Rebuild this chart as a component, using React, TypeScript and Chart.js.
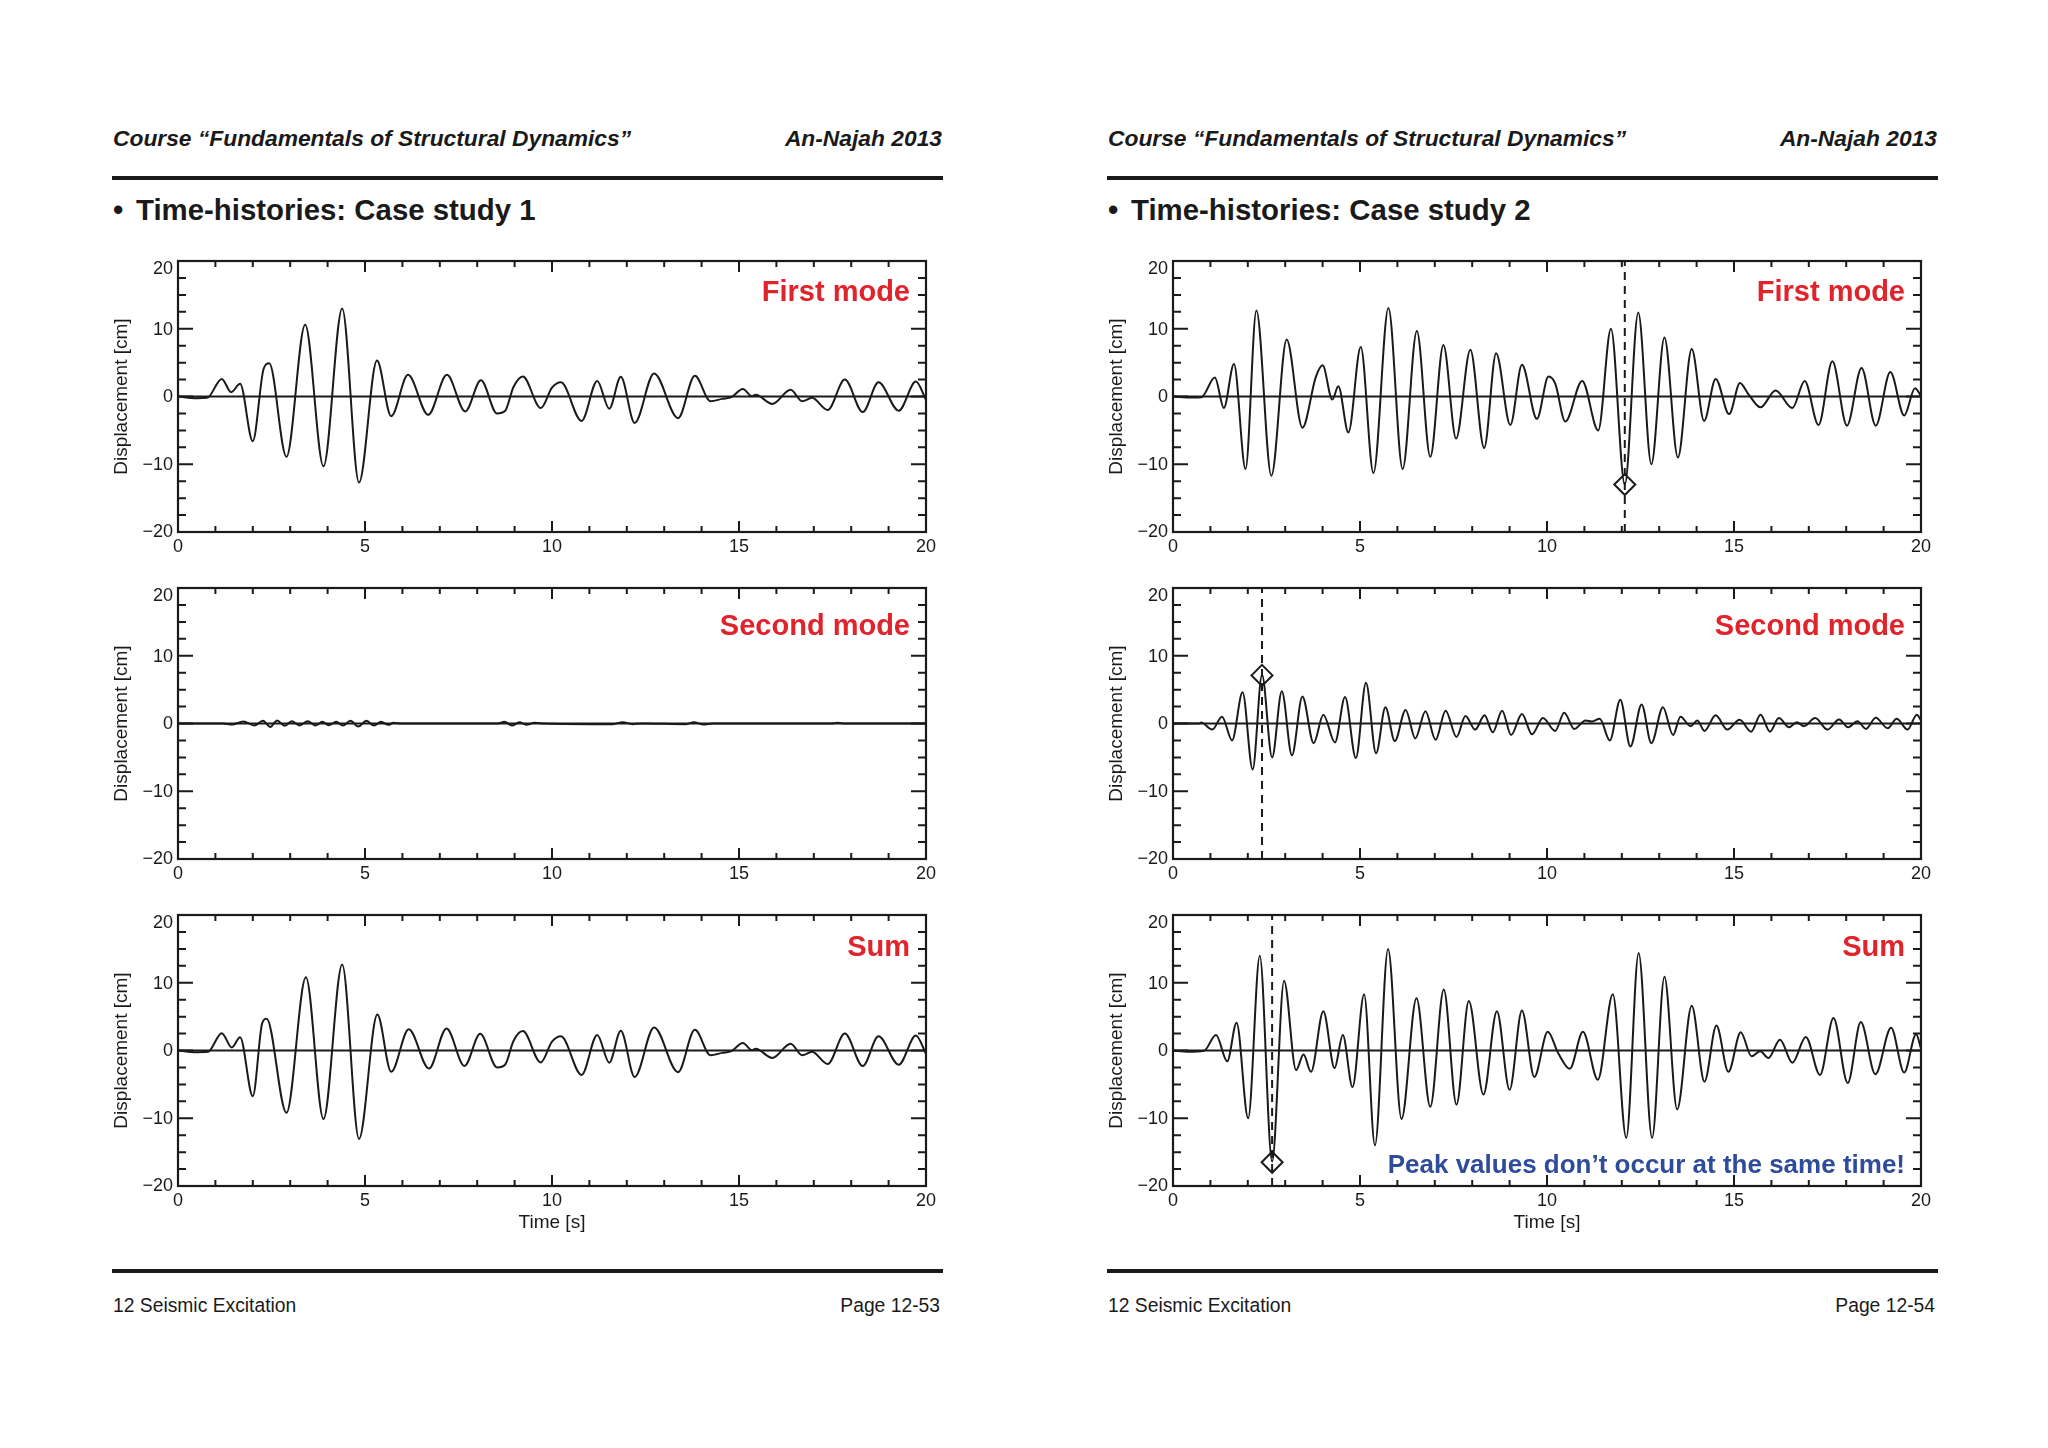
import React, { useEffect, useRef } from 'react';
import { Chart, registerables } from 'chart.js';

Chart.register(...registerables);

type Pt = [number, number];

// ---------- text ----------
const headerLeft = 'Course “Fundamentals of Structural Dynamics”';
const headerRight = 'An-Najah 2013';
const pageTitles = ['Time-histories: Case study 1', 'Time-histories: Case study 2'];
const footerLeft = '12 Seismic Excitation';
const pageNumbers = ['Page 12-53', 'Page 12-54'];
const modeLabels = ['First mode', 'Second mode', 'Sum'];
const noteText = 'Peak values don’t occur at the same time!';
const yAxisTitle = 'Displacement [cm]';
const xAxisTitle = 'Time [s]';

// ---------- axes ----------
const xMin = 0, xMax = 20, xMajorStep = 5, xMinorStep = 1;
const yMin = -20, yMax = 20, yMajorStep = 10, yMinorStep = 2.5;

// ---------- data: [time s, displacement cm] (extrema) ----------
const case1FirstMode: Pt[] = [
  [0, 0], [0.5, -0.25], [0.78, -0.2], [1.17, 2.6], [1.42, 0.64], [1.66, 1.87], [2.0, -6.6], [2.29, 4.1], [2.44, 4.9],
  [2.9, -8.9], [3.4, 10.6], [3.89, -10.3], [4.39, 13.0], [4.84, -12.7], [5.32, 5.3], [5.7, -2.9], [6.15, 3.2],
  [6.69, -2.7], [7.19, 3.2], [7.68, -2.2], [8.1, 2.4], [8.53, -2.5], [8.75, -2.1], [8.97, 1.4], [9.22, 2.96],
  [9.7, -1.7], [10.0, 1.3], [10.24, 2.1], [10.79, -3.6], [11.21, 2.3], [11.53, -1.8], [11.84, 2.9], [12.21, -3.9],
  [12.73, 3.4], [13.37, -3.2], [13.82, 3.05], [14.24, -0.7], [14.55, -0.35], [14.8, -0.1], [15.1, 1.1], [15.35, 0.05],
  [15.45, 0.25], [15.89, -1.1], [16.38, 1.0], [16.69, -0.7], [16.95, -0.2], [17.37, -2.0], [17.83, 2.5], [18.31, -2.3],
  [18.73, 2.1], [19.27, -2.1], [19.73, 2.2], [20, -0.5],
];

const case1SecondMode: Pt[] = [
  [0, 0], [1.2, 0], [1.45, -0.15], [1.75, 0.3], [2.04, -0.3], [2.27, 0.4], [2.47, -0.5], [2.65, 0.45], [2.85, -0.35],
  [3.04, 0.35], [3.25, -0.3], [3.47, 0.35], [3.67, -0.3], [3.86, 0.25], [4.03, -0.25], [4.23, 0.25], [4.41, -0.3],
  [4.61, 0.4], [4.82, -0.45], [5.04, 0.4], [5.24, -0.3], [5.43, 0.25], [5.63, -0.2], [5.76, 0.1], [6.0, 0],
  [8.55, 0], [8.73, 0.25], [8.93, -0.3], [9.13, 0.2], [9.31, -0.2], [9.54, 0.1], [9.8, 0], [11.63, -0.1],
  [11.89, 0.2], [12.15, -0.1], [12.4, 0], [13.59, -0.1], [13.79, 0.2], [14.05, -0.15], [14.3, 0], [17.45, 0],
  [17.64, 0.1], [17.85, 0], [20, 0],
];

const case1Sum: Pt[] = [
  [0, 0], [0.5, -0.25], [0.8, -0.2], [1.17, 2.56], [1.44, 0.44], [1.66, 1.97], [2.0, -6.75], [2.25, 4.0], [2.37, 4.7],
  [2.9, -9.2], [3.42, 10.8], [3.89, -10.1], [4.39, 12.7], [4.84, -13.05], [5.33, 5.3], [5.7, -3.15], [6.17, 3.15],
  [6.71, -2.66], [7.18, 3.25], [7.66, -2.27], [8.08, 2.46], [8.53, -2.5], [8.75, -2.07], [8.97, 1.4], [9.22, 2.86],
  [9.7, -1.77], [10.0, 1.3], [10.24, 2.1], [10.79, -3.6], [11.21, 2.3], [11.53, -1.8], [11.84, 2.9], [12.21, -3.9],
  [12.73, 3.4], [13.37, -3.2], [13.82, 3.05], [14.24, -0.7], [14.55, -0.35], [14.8, -0.1], [15.1, 1.1], [15.35, 0.05],
  [15.45, 0.25], [15.89, -1.1], [16.38, 1.0], [16.69, -0.7], [16.95, -0.2], [17.37, -2.0], [17.83, 2.5], [18.31, -2.3],
  [18.73, 2.1], [19.27, -2.1], [19.73, 2.2], [20, -0.5],
];

const case2FirstMode: Pt[] = [
  [0, 0], [0.5, -0.15], [0.76, -0.1], [1.12, 2.8], [1.36, -1.7], [1.63, 4.8], [1.94, -10.7], [2.23, 12.7], [2.63, -11.7],
  [3.04, 8.4], [3.46, -4.6], [3.82, 2.9], [4.0, 4.6], [4.26, -0.45], [4.42, 1.5], [4.69, -5.3], [5.02, 7.3], [5.36, -11.3],
  [5.76, 13.05], [6.14, -10.7], [6.52, 9.65], [6.88, -8.9], [7.23, 7.6], [7.57, -6.2], [7.95, 6.9], [8.32, -7.6],
  [8.64, 6.4], [9.02, -4.2], [9.33, 4.7], [9.73, -3.3], [10.04, 2.95], [10.22, 1.9], [10.49, -3.7], [10.94, 2.3],
  [11.37, -5.0], [11.71, 10.0], [12.08, -13.0], [12.44, 12.4], [12.79, -10.0], [13.14, 8.7], [13.5, -9.0], [13.87, 7.0],
  [14.2, -3.6], [14.51, 2.6], [14.87, -2.6], [15.16, 2.0], [15.38, 0.4], [15.71, -1.6], [16.11, 0.9], [16.56, -1.7],
  [16.89, 2.3], [17.26, -4.2], [17.63, 5.2], [18.02, -4.3], [18.41, 4.2], [18.79, -4.3], [19.18, 3.6], [19.55, -2.8],
  [19.84, 1.2], [20, 0.1],
];

const case2SecondMode: Pt[] = [
  [0, 0], [0.7, 0], [0.75, 0.15], [1.05, -0.9], [1.31, 1.0], [1.58, -2.5], [1.86, 4.6], [2.13, -6.8], [2.38, 7.2],
  [2.65, -5.0], [2.91, 4.75], [3.18, -4.7], [3.46, 4.0], [3.76, -2.9], [4.02, 1.3], [4.33, -2.8], [4.6, 3.9], [4.89, -5.1],
  [5.16, 6.0], [5.43, -4.4], [5.68, 2.4], [5.93, -2.6], [6.22, 2.0], [6.48, -2.2], [6.75, 1.8], [7.02, -2.4], [7.29, 1.9],
  [7.58, -2.0], [7.82, 1.1], [8.08, -0.9], [8.33, 1.2], [8.55, -1.3], [8.8, 1.9], [9.04, -1.7], [9.33, 1.4], [9.6, -1.6],
  [9.89, 0.8], [10.22, -1.1], [10.46, 1.6], [10.73, -0.8], [11.03, 0.45], [11.2, 0.3], [11.41, 0.7], [11.68, -2.5],
  [11.96, 3.5], [12.23, -3.4], [12.53, 2.8], [12.79, -2.9], [13.1, 2.4], [13.37, -1.7], [13.57, 1.0], [13.84, -0.4],
  [14.02, 0.45], [14.21, -1.1], [14.51, 1.2], [14.82, -0.9], [15.15, 0.55], [15.46, -1.2], [15.71, 1.3], [15.96, -1.2],
  [16.2, 0.8], [16.47, -0.55], [16.68, 0.2], [16.87, -0.4], [17.17, 0.8], [17.5, -0.9], [17.81, 0.6], [18.05, -0.55],
  [18.3, 0.35], [18.53, -0.8], [18.79, 0.85], [19.11, -0.7], [19.35, 0.7], [19.64, -0.9], [19.89, 1.3], [20, 0.45],
];

const case2Sum: Pt[] = [
  [0, 0], [0.4, -0.2], [0.83, -0.05], [1.15, 2.3], [1.45, -1.6], [1.7, 4.1], [2.01, -10.0], [2.32, 14.0], [2.65, -16.4],
  [2.97, 10.3], [3.29, -2.9], [3.49, -0.6], [3.69, -3.15], [4.02, 5.8], [4.32, -2.6], [4.54, 2.3], [4.8, -5.4],
  [5.11, 8.3], [5.4, -14.0], [5.75, 15.0], [6.11, -10.1], [6.51, 7.7], [6.88, -8.3], [7.24, 9.0], [7.58, -8.0],
  [7.91, 7.3], [8.3, -6.5], [8.66, 5.8], [9.0, -5.8], [9.33, 5.9], [9.66, -3.9], [10.02, 2.75], [10.3, -0.4],
  [10.61, -2.7], [10.96, 2.75], [11.36, -4.3], [11.76, 8.3], [12.12, -12.9], [12.45, 14.4], [12.81, -12.9],
  [13.14, 10.9], [13.48, -8.7], [13.87, 6.6], [14.21, -4.6], [14.53, 3.7], [14.85, -3.15], [15.18, 2.7], [15.47, -0.85],
  [15.7, -0.1], [15.92, -1.1], [16.23, 1.6], [16.56, -1.8], [16.92, 2.0], [17.3, -3.6], [17.66, 4.8], [18.04, -4.8],
  [18.39, 4.2], [18.78, -3.5], [19.2, 3.35], [19.55, -3.25], [19.87, 2.4], [20, 0.3],
];

// peak markers (time, value)
const case2FirstPeak: Pt = [12.08, -13.0];
const case2SecondPeak: Pt = [2.38, 7.1];
const case2SumPeak: Pt = [2.65, -16.5];

// ---------- styling ----------
const FONT = '"Liberation Sans", Arial, Helvetica, sans-serif';
const INK = '#1a1a1a';
const RED = '#e1232b';
const BLUE = '#2f4c9c';

const FW = 748;
const FH = 271;
const PAD_L = 80;
const PAD_T = 20;
const PAD_R = 30;
const PAD_B = 60;
const PAGE_DX = 995;
const FRAME_LEFT = 178;
const FRAME_TOPS = [261, 588, 915];

const fmt = (v: any) => {
  const n = Number(v);
  return n < 0 ? '\u2212' + Math.abs(n) : String(n);
};

type PlotProps = {
  left: number;
  top: number;
  series: Pt[];
  peak?: Pt;
  label: string;
  labelDy: number;
  timeTitle: boolean;
  note?: string;
};

function makeDeco(label: string, labelDy: number, note?: string) {
  return {
    id: 'deco',
    beforeDatasetsDraw(chart: any) {
      const { ctx, chartArea: a, scales } = chart;
      const y0 = scales.y.getPixelForValue(0);
      ctx.save();
      ctx.strokeStyle = INK;
      ctx.lineWidth = 2;
      ctx.beginPath();
      ctx.moveTo(a.left, y0);
      ctx.lineTo(a.right, y0);
      ctx.stroke();
      ctx.restore();
    },
    afterDatasetsDraw(chart: any) {
      const { ctx, chartArea: a, scales } = chart;
      const x = scales.x;
      const y = scales.y;
      ctx.save();
      ctx.strokeStyle = INK;
      ctx.lineWidth = 2;
      ctx.beginPath();
      for (let t = xMin; t <= xMax + 1e-9; t += xMinorStep) {
        const px = x.getPixelForValue(t);
        const len = Math.abs(t % xMajorStep) < 1e-9 ? 11 : 6;
        ctx.moveTo(px, a.bottom);
        ctx.lineTo(px, a.bottom - len);
        ctx.moveTo(px, a.top);
        ctx.lineTo(px, a.top + len);
      }
      for (let v = yMin; v <= yMax + 1e-9; v += yMinorStep) {
        const py = y.getPixelForValue(v);
        const len = Math.abs(v % yMajorStep) < 1e-9 ? 15 : 8;
        ctx.moveTo(a.left, py);
        ctx.lineTo(a.left + len, py);
        ctx.moveTo(a.right, py);
        ctx.lineTo(a.right - len, py);
      }
      ctx.stroke();
      ctx.lineWidth = 2.2;
      ctx.strokeRect(a.left, a.top, a.right - a.left, a.bottom - a.top);

      // y tick labels (top one kept inside the frame, as in the original plot)
      ctx.fillStyle = INK;
      ctx.font = `18px ${FONT}`;
      ctx.textAlign = 'right';
      ctx.textBaseline = 'middle';
      for (const tk of y.ticks) {
        const py = y.getPixelForValue(tk.value);
        const shift = tk.value === yMax ? 8 : tk.value === yMin ? 0 : 1;
        ctx.fillText(fmt(tk.value), a.left - 5, py + shift);
      }

      ctx.fillStyle = RED;
      ctx.font = `bold 29px ${FONT}`;
      ctx.fillText(label, a.right - 16, a.top + labelDy);
      if (note) {
        ctx.fillStyle = BLUE;
        ctx.font = `bold 26px ${FONT}`;
        ctx.fillText(note, a.right - 16, a.top + 251);
      }
      ctx.restore();
    },
  };
}

function Plot(p: PlotProps) {
  const ref = useRef<HTMLCanvasElement>(null);
  useEffect(() => {
    const datasets: any[] = [
      {
        type: 'line',
        data: p.series.map(([t, v]) => ({ x: t, y: v })),
        borderColor: INK,
        borderWidth: 2,
        pointRadius: 0,
        cubicInterpolationMode: 'monotone',
        fill: false,
      },
    ];
    if (p.peak) {
      const [pt, pv] = p.peak;
      datasets.push({
        type: 'line',
        data: [{ x: pt, y: yMin }, { x: pt, y: yMax }],
        borderColor: INK,
        borderWidth: 2,
        borderDash: [8, 6],
        pointRadius: 0,
        fill: false,
      });
      datasets.push({
        type: 'scatter',
        data: [{ x: pt, y: pv }],
        pointStyle: 'rectRot',
        pointRadius: 10.5,
        borderColor: INK,
        borderWidth: 2,
        backgroundColor: 'rgba(0,0,0,0)',
        showLine: false,
      });
    }
    const chart = new Chart(ref.current as HTMLCanvasElement, {
      type: 'line',
      data: { datasets },
      options: {
        responsive: false,
        animation: false,
        events: [],
        layout: { padding: { top: PAD_T, right: PAD_R, left: 0, bottom: 0 } },
        plugins: { legend: { display: false }, tooltip: { enabled: false } },
        scales: {
          x: {
            type: 'linear',
            min: xMin,
            max: xMax,
            grid: { display: false, drawTicks: false },
            border: { display: false },
            ticks: {
              stepSize: xMajorStep,
              padding: 4,
              color: INK,
              maxRotation: 0,
              autoSkip: false,
              font: { family: FONT, size: 18 },
              callback: fmt,
            },
            title: {
              display: p.timeTitle,
              text: xAxisTitle,
              color: INK,
              font: { family: FONT, size: 19 },
              padding: { top: 0, bottom: 12 },
            },
            afterFit: (s: any) => {
              s.height = PAD_B;
            },
          },
          y: {
            type: 'linear',
            min: yMin,
            max: yMax,
            grid: { display: false, drawTicks: false },
            border: { display: false },
            ticks: {
              stepSize: yMajorStep,
              padding: 5,
              color: 'rgba(0,0,0,0)',
              font: { family: FONT, size: 18 },
              callback: fmt,
            },
            title: {
              display: true,
              text: yAxisTitle,
              color: INK,
              font: { family: FONT, size: 19 },
              padding: { top: 12.5, bottom: 0 },
            },
            afterFit: (s: any) => {
              s.width = PAD_L;
            },
          },
        },
      } as any,
      plugins: [makeDeco(p.label, p.labelDy, p.note)],
    });
    return () => chart.destroy();
  }, []);
  return (
    <canvas
      ref={ref}
      width={FW + PAD_L + PAD_R}
      height={FH + PAD_T + PAD_B}
      style={{ position: 'absolute', left: p.left - PAD_L, top: p.top - PAD_T, width: FW + PAD_L + PAD_R, height: FH + PAD_T + PAD_B }}
    />
  );
}

type TxtProps = {
  left?: number;
  right?: number;
  cy: number;
  size: number;
  bold?: boolean;
  italic?: boolean;
  children: React.ReactNode;
};

function Txt({ left, right, cy, size, bold, italic, children }: TxtProps) {
  const style: React.CSSProperties = {
    position: 'absolute',
    top: cy - 0.4885 * size,
    fontSize: size,
    lineHeight: 1,
    fontWeight: bold ? 700 : 400,
    fontStyle: italic ? 'italic' : 'normal',
    whiteSpace: 'nowrap',
    fontFamily: FONT,
    color: INK,
  };
  if (left !== undefined) style.left = left;
  if (right !== undefined) {
    style.left = right;
    style.transform = 'translateX(-100%)';
  }
  return <span style={style}>{children}</span>;
}

function Page({ index }: { index: number }) {
  const dx = index * PAGE_DX;
  const fl = FRAME_LEFT + dx;
  const plots =
    index === 0
      ? [
          { series: case1FirstMode, peak: undefined, labelDy: 32 },
          { series: case1SecondMode, peak: undefined, labelDy: 39 },
          { series: case1Sum, peak: undefined, labelDy: 33 },
        ]
      : [
          { series: case2FirstMode, peak: case2FirstPeak, labelDy: 32 },
          { series: case2SecondMode, peak: case2SecondPeak, labelDy: 39 },
          { series: case2Sum, peak: case2SumPeak, labelDy: 33 },
        ];
  return (
    <>
      <Txt left={113 + dx} cy={138} size={22.8} bold italic>{headerLeft}</Txt>
      <Txt right={942 + dx} cy={138} size={22.8} bold italic>{headerRight}</Txt>
      <div style={{ position: 'absolute', left: 112 + dx, top: 176, width: 831, height: 3.5, background: INK }} />
      <Txt left={113 + dx} cy={209} size={29.4} bold>•</Txt>
      <Txt left={136 + dx} cy={209} size={29.4} bold>{pageTitles[index]}</Txt>
      {plots.map((pl, i) => (
        <Plot
          key={i}
          left={fl}
          top={FRAME_TOPS[i]}
          series={pl.series}
          peak={pl.peak}
          label={modeLabels[i]}
          labelDy={pl.labelDy}
          timeTitle={i === 2}
          note={index === 1 && i === 2 ? noteText : undefined}
        />
      ))}
      <div style={{ position: 'absolute', left: 112 + dx, top: 1269, width: 831, height: 3.5, background: INK }} />
      <Txt left={113 + dx} cy={1305} size={19.3}>{footerLeft}</Txt>
      <Txt right={940 + dx} cy={1305} size={19.3}>{pageNumbers[index]}</Txt>
    </>
  );
}

export default function App() {
  return (
    <div
      style={{
        position: 'absolute',
        left: 0,
        top: 0,
        width: 2048,
        height: 1448,
        background: '#fff',
        overflow: 'hidden',
      }}
    >
      <Page index={0} />
      <Page index={1} />
    </div>
  );
}
